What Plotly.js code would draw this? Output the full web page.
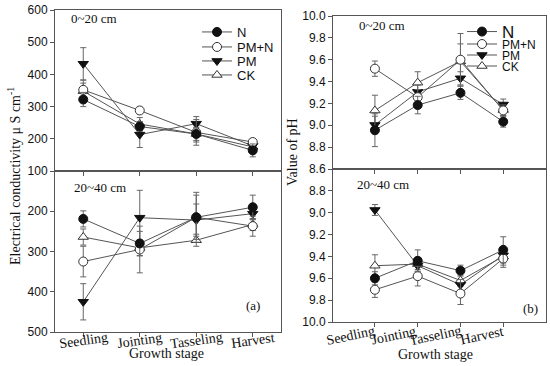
<!DOCTYPE html>
<html><head><meta charset="utf-8">
<script src="https://cdn.plot.ly/plotly-3.0.1.min.js"></script>
<style>html,body{margin:0;padding:0;background:#fff}</style>
</head><body><div id="chart" style="width:550px;height:366px"></div>
<script>
// ---------- data ----------
const stages = ['Seedling', 'Jointing', 'Tasseling', 'Harvest'];
const seriesNames = ['N', 'PM+N', 'PM', 'CK'];

// Electrical conductivity, 0~20 cm
const ecTopN   = [322, 238, 215, 164];
const ecTopPMN = [352, 288, 220, 190];
const ecTopPM  = [433, 213, 247, 178];
const ecTopCK  = [348, 246, 215, 175];
const ecTopNErr   = [22, 15, 20, 20];
const ecTopPMNErr = [30, 10, 40, 10];
const ecTopPMErr  = [50, 40, 22, 10];
const ecTopCKErr  = [25, 20, 25, 10];

// Electrical conductivity, 20~40 cm
const ecBotN   = [219, 280, 215, 190];
const ecBotPMN = [325, 295, 215, 237];
const ecBotPM  = [425, 216, 222, 206];
const ecBotCK  = [264, 291, 272, 233];
const ecBotNErr   = [20, 30, 55, 30];
const ecBotPMNErr = [38, 58, 62, 25];
const ecBotPMErr  = [45, 68, 40, 15];
const ecBotCKErr  = [20, 20, 15, 15];

// pH, 0~20 cm
const phTopN   = [8.955, 9.185, 9.297, 9.033];
const phTopPMN = [9.518, 9.257, 9.60, 9.136];
const phTopPM  = [9.003, 9.306, 9.43, 9.19];
const phTopCK  = [9.135, 9.39, 9.585, 9.14];
const phTopNErr   = [0.15, 0.08, 0.06, 0.05];
const phTopPMNErr = [0.07, 0.07, 0.24, 0.05];
const phTopPMErr  = [0.08, 0.06, 0.06, 0.05];
const phTopCKErr  = [0.14, 0.10, 0.16, 0.05];

// pH, 20~40 cm
const phBotN   = [9.60, 9.44, 9.53, 9.34];
const phBotPMN = [9.705, 9.58, 9.74, 9.42];
const phBotPM  = [8.975, 9.485, 9.66, 9.39];
const phBotCK  = [9.485, 9.47, 9.62, 9.40];
const phBotNErr   = [0.06, 0.10, 0.05, 0.12];
const phBotPMNErr = [0.07, 0.09, 0.10, 0.08];
const phBotPMErr  = [0.05, 0.05, 0.05, 0.06];
const phBotCKErr  = [0.10, 0.05, 0.05, 0.08];

const ecTicksTop = [100, 200, 300, 400, 500, 600];
const ecTicksBot = [200, 300, 400, 500];
const phTicksTop = [8.6, 8.8, 9.0, 9.2, 9.4, 9.6, 9.8, 10.0];
const phTicksBot = [8.8, 9.0, 9.2, 9.4, 9.6, 9.8, 10.0];

// ---------- styling ----------
const W = 550, H = 366;
const px = v => v / W, py = v => 1 - v / H;
const SANS = 'Liberation Sans, Arial, sans-serif';
const SERIF = 'Liberation Serif, Times New Roman, serif';
const lineCol = '#555';
const markerStyles = [
  {symbol: 'circle', color: '#111', line: {color: '#111', width: 1}},
  {symbol: 'circle', color: '#fff', line: {color: '#333', width: 1}},
  {symbol: 'triangle-down', color: '#111', line: {color: '#111', width: 1}},
  {symbol: 'triangle-up', color: '#fff', line: {color: '#333', width: 1}}
];

const panels = [
  {xa: 'x',  ya: 'y',  vals: [ecTopN, ecTopPMN, ecTopPM, ecTopCK], errs: [ecTopNErr, ecTopPMNErr, ecTopPMErr, ecTopCKErr], legends: ['legend', 'legend2', 'legend3', 'legend4']},
  {xa: 'x2', ya: 'y2', vals: [ecBotN, ecBotPMN, ecBotPM, ecBotCK], errs: [ecBotNErr, ecBotPMNErr, ecBotPMErr, ecBotCKErr]},
  {xa: 'x3', ya: 'y3', vals: [phTopN, phTopPMN, phTopPM, phTopCK], errs: [phTopNErr, phTopPMNErr, phTopPMErr, phTopCKErr], legends: ['legend5', 'legend6', 'legend7', 'legend8']},
  {xa: 'x4', ya: 'y4', vals: [phBotN, phBotPMN, phBotPM, phBotCK], errs: [phBotNErr, phBotPMNErr, phBotPMErr, phBotCKErr]}
];

const traces = [];
panels.forEach(p => {
  [3, 2, 1, 0].forEach(i => {
    traces.push({
      type: 'scatter', mode: 'lines+markers',
      x: stages, y: p.vals[i], name: seriesNames[i],
      xaxis: p.xa, yaxis: p.ya,
      line: {color: lineCol, width: 1},
      marker: Object.assign({size: 9}, markerStyles[i]),
      error_y: {type: 'data', array: p.errs[i], visible: true, color: '#666', thickness: 1, width: 3},
      showlegend: !!p.legends,
      legend: p.legends ? p.legends[i] : undefined,
      hoverinfo: 'skip'
    });
  });
});

const axBase = {
  showline: true, mirror: true, linecolor: '#555', linewidth: 1,
  showgrid: false, zeroline: false,
  ticks: 'outside', ticklen: 4, tickcolor: '#555', tickwidth: 1,
  tickfont: {family: SANS, size: 12, color: '#111'}
};
const xA = Object.assign({}, axBase, {type: 'category', showticklabels: false});

// legends (one per entry so each can sit exactly where the reference has it)
const legendLayout = {};
const legIds = ['legend', 'legend2', 'legend3', 'legend4', 'legend5', 'legend6', 'legend7', 'legend8'];
const legX = [197, 197, 197, 197, 462, 462, 462, 462];
const legY = [32, 47, 61, 75, 32, 44, 55, 66];
const legSize = [13, 13, 13, 13, 17, 12, 12, 12];
legIds.forEach((id, k) => {
  legendLayout[id] = {
    x: px(legX[k]), y: py(legY[k]), xanchor: 'left', yanchor: 'middle',
    bgcolor: 'rgba(0,0,0,0)', borderwidth: 0, itemwidth: 30,
    font: {family: SANS, size: legSize[k], color: '#111'},
    itemclick: false, itemdoubleclick: false
  };
});

function ann(text, x, y, size, extra) {
  return Object.assign({text: text, x: px(x), y: py(y), xref: 'paper', yref: 'paper',
    showarrow: false, xanchor: 'center', yanchor: 'middle',
    font: {family: SERIF, size: size, color: '#111'}}, extra || {});
}

const annotations = [
  ann('0~20 cm', 94, 18, 13),
  ann('20~40 cm', 100, 187, 13),
  ann('(a)', 253, 305, 13),
  ann('0~20 cm', 382, 26, 13),
  ann('20~40 cm', 383, 184, 13),
  ann('(b)', 530, 308, 13),
  ann('Growth stage', 166, 353, 14),
  ann('Growth stage', 435, 354, 14),
  ann('Electrical conductivity μ S cm<sup>-1</sup>', 14, 176, 14, {textangle: -90}),
  ann('Value of pH', 292, 152, 14, {textangle: -90})
];
// category labels, panel (a): tilted and centred on the ticks
stages.forEach(s => {
  annotations.push({text: s, x: s, xref: 'x2', y: py(340), yref: 'paper',
    showarrow: false, xanchor: 'center', yanchor: 'middle', textangle: -8,
    font: {family: SERIF, size: 14, color: '#111'}});
});
// category labels, panel (b): tilted and ending at the ticks
const bShift = [-24, -24, -25, -21];
stages.forEach((s, k) => {
  annotations.push({text: s, x: s, xref: 'x4', xshift: bShift[k], y: py(335), yref: 'paper',
    showarrow: false, xanchor: 'center', yanchor: 'middle', textangle: -12,
    font: {family: SERIF, size: 14, color: '#111'}});
});

const layout = Object.assign({
  width: W, height: H,
  margin: {l: 0, r: 0, t: 0, b: 0},
  paper_bgcolor: '#fff', plot_bgcolor: '#fff',
  showlegend: true,
  xaxis:  Object.assign({}, xA, {domain: [px(55), px(281)], range: [-0.5, 3.5], anchor: 'y'}),
  xaxis2: Object.assign({}, xA, {domain: [px(55), px(281)], range: [-0.5, 3.5], anchor: 'y2'}),
  xaxis3: Object.assign({}, xA, {domain: [px(333), px(546)], range: [-0.98, 4.0], anchor: 'y3'}),
  xaxis4: Object.assign({}, xA, {domain: [px(333), px(546)], range: [-0.98, 4.0], anchor: 'y4'}),
  yaxis:  Object.assign({}, axBase, {domain: [py(171), py(10)], range: [100, 600], tickvals: ecTicksTop, anchor: 'x'}),
  yaxis2: Object.assign({}, axBase, {domain: [py(332), py(171)], range: [500, 100], tickvals: ecTicksBot, anchor: 'x2'}),
  yaxis3: Object.assign({}, axBase, {domain: [py(169), py(16)], range: [8.6, 10.0], tickvals: phTicksTop, tickformat: '.1f', anchor: 'x3'}),
  yaxis4: Object.assign({}, axBase, {domain: [py(322), py(169)], range: [10.0, 8.6], tickvals: phTicksBot, tickformat: '.1f', anchor: 'x4'}),
  annotations: annotations
}, legendLayout);

Plotly.newPlot('chart', traces, layout, {staticPlot: true, displayModeBar: false});
</script>
</body></html>
